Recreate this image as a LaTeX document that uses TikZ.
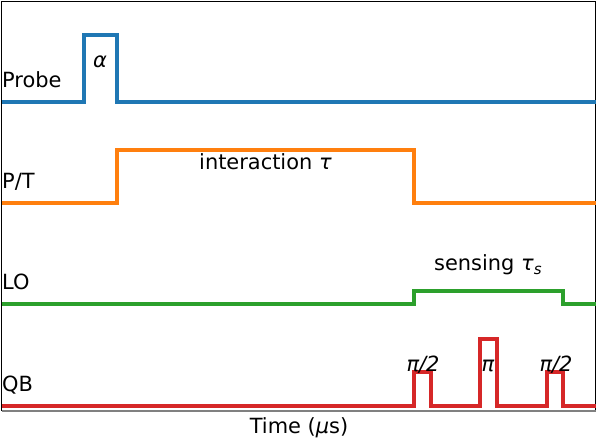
\documentclass[tikz,border=0pt]{standalone}
\usepackage{fontspec}
\setmainfont{DejaVu Sans}
\usetikzlibrary{positioning}

\definecolor{tabblue}{HTML}{1F77B4}
\definecolor{taborange}{HTML}{FF7F0E}
\definecolor{tabgreen}{HTML}{2CA02C}
\definecolor{tabred}{HTML}{D62728}

\tikzset{
  pulse/.style={line width=3.3bp, line join=miter},
  chan/.style={anchor=base west, inner sep=0pt},
  tag/.style={anchor=base, inner sep=0pt}
}

\begin{document}
\begin{tikzpicture}[x=1bp,y=-1bp,font=\fontsize{21}{25}\selectfont]
\useasboundingbox (0,0) rectangle (598,439);

%Frame
\draw[line width=1.2bp] (1.5,411) -- (1.5,1.5) -- (595.5,1.5) -- (595.5,411);
\draw[line width=1.5bp, gray] (1.5,411) -- (595.5,411);

% Probe
\draw[pulse, tabblue] (1.5,102) -- (84,102) -- (84,35) -- (117,35) -- (117,102) -- (596,102);
\node[chan] (probe) at (2,88) {Probe};
\node[tag] (alpha) at (100,68) {\textit{α}};

% P/T
\draw[pulse, taborange] (1.5,203) -- (117,203) -- (117,150) -- (414,150) -- (414,203) -- (596,203);
\node[chan] (pt) at (2,189) {P/T};
\node[chan] (inter) at (199,170) {interaction \textit{τ}};

% LO
\draw[pulse, tabgreen] (1.5,304) -- (414,304) -- (414,291) -- (563,291) -- (563,304) -- (596,304);
\node[chan] (lo) at (2,290) {LO};
\node[chan] (sense) at (434,271) {sensing \textit{τ}\raisebox{-0.3ex}{\fontsize{15}{18}\selectfont\textit{s}}};

% QB
\draw[pulse, tabred] (1.5,406) -- (414,406) -- (414,372) -- (431,372) -- (431,406)
  -- (480,406) -- (480,339) -- (497,339) -- (497,406)
  -- (547,406) -- (547,372) -- (563,372) -- (563,406) -- (596,406);
\node[chan] (qb) at (2,391) {QB};
\node[tag] (halfa) at (423,371) {\textit{π/2}};
\node[tag] (full) at (488,371) {\textit{π}};
\node[tag] (halfb) at (556,371) {\textit{π/2}};

% Axis label
\node[tag] (time) at (299,433) {Time (\textit{μ}s)};

\end{tikzpicture}
\end{document}
